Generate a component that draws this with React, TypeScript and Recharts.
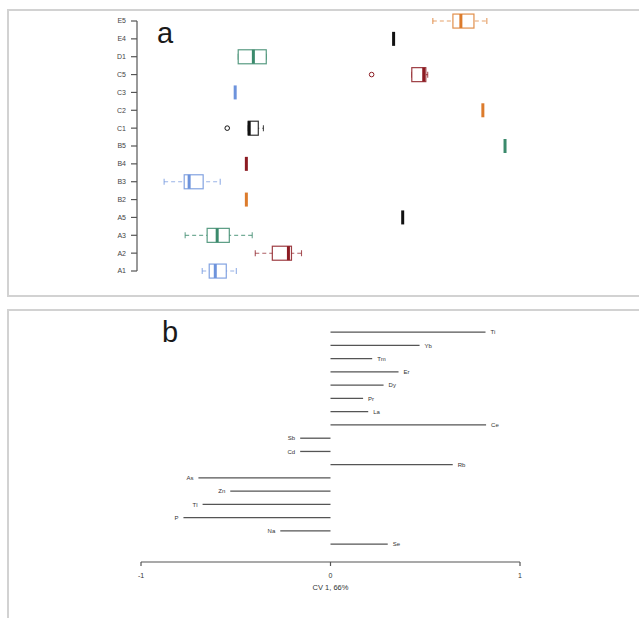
import React from 'react';
import { ComposedChart, Bar, Scatter, XAxis, YAxis } from 'recharts';

// ---------- Panel a: box plots ----------
const boxCategories = ['E5', 'E4', 'D1', 'C5', 'C3', 'C2', 'C1', 'B5', 'B4', 'B3', 'B2', 'A5', 'A3', 'A2', 'A1'];
const boxLow = [0.54, 0.333, -0.487, 0.429, -0.503, 0.804, -0.434, 0.921, -0.444, -0.878, -0.444, 0.381, -0.767, -0.397, -0.677];
const boxQ1 = [0.646, 0.333, -0.487, 0.429, -0.503, 0.804, -0.434, 0.921, -0.444, -0.772, -0.444, 0.381, -0.651, -0.307, -0.64];
const boxMedian = [0.688, 0.333, -0.407, 0.492, -0.503, 0.804, -0.429, 0.921, -0.444, -0.746, -0.444, 0.381, -0.598, -0.222, -0.608];
const boxQ3 = [0.757, 0.333, -0.339, 0.503, -0.503, 0.804, -0.381, 0.921, -0.444, -0.672, -0.444, 0.381, -0.534, -0.206, -0.55];
const boxHigh = [0.825, 0.333, -0.339, 0.513, -0.503, 0.804, -0.354, 0.921, -0.444, -0.582, -0.444, 0.381, -0.413, -0.153, -0.497];
const boxOutlier: (number | null)[] = [null, null, null, 0.217, null, null, -0.545, null, null, null, null, null, null, null, null];
const groupColors = ['#dc7b2c', '#111111', '#3b8a6c', '#8c1b22', '#6d93dc'];

// ---------- Panel b: loadings ----------
const cvElements = ['Ti', 'Yb', 'Tm', 'Er', 'Dy', 'Pr', 'La', 'Ce', 'Sb', 'Cd', 'Rb', 'As', 'Zn', 'Tl', 'P', 'Na', 'Se'];
const cvLoadings = [0.818, 0.47, 0.22, 0.359, 0.28, 0.172, 0.199, 0.821, -0.16, -0.16, 0.645, -0.697, -0.529, -0.675, -0.776, -0.265, 0.302];
const cvTicks = [-1, 0, 1];
const cvAxisTitle = 'CV 1, 66%';

const boxData = boxCategories.map((cat, i) => ({
  cat,
  whisker: [boxLow[i], boxHigh[i]],
  box: [boxQ1[i], boxQ3[i]],
  med: boxMedian[i],
  out: boxOutlier[i],
  color: groupColors[i % groupColors.length],
}));

const cvData = cvElements.map((name, i) => ({ name, v: cvLoadings[i] }));

const WhiskerShape = (props: any) => {
  const { x, y, width, height, payload } = props;
  if (!payload || !isFinite(width) || Math.abs(width) < 0.5) return <g />;
  const cy = y + height / 2;
  const c = payload.color;
  const x2 = x + width;
  return (
    <g>
      <line x1={x} x2={x2} y1={cy} y2={cy} stroke={c} strokeOpacity={0.7} strokeWidth={1.1} strokeDasharray="4 3" />
      <line x1={x} x2={x} y1={y} y2={y + height} stroke={c} strokeOpacity={0.75} strokeWidth={1.1} />
      <line x1={x2} x2={x2} y1={y} y2={y + height} stroke={c} strokeOpacity={0.75} strokeWidth={1.1} />
    </g>
  );
};

const BoxShape = (props: any) => {
  const { x, y, width, height, payload } = props;
  if (!payload || !isFinite(width) || Math.abs(width) < 0.5) return <g />;
  const left = Math.min(x, x + width);
  return (
    <rect x={left} y={y} width={Math.abs(width)} height={height} fill="#ffffff" stroke={payload.color} strokeOpacity={0.85} strokeWidth={1.2} />
  );
};

const MedianShape = (props: any) => {
  const { cx, cy, payload } = props;
  if (!payload || cx == null || cy == null) return <g />;
  return <line x1={cx} x2={cx} y1={cy - 7} y2={cy + 7} stroke={payload.color} strokeWidth={3} />;
};

const OutlierShape = (props: any) => {
  const { cx, cy, payload } = props;
  if (!payload || payload.out == null || cx == null || cy == null || !isFinite(cx)) return <g />;
  return <circle cx={cx} cy={cy} r={2.3} fill="none" stroke={payload.color} strokeWidth={1} />;
};

const LoadingShape = (props: any) => {
  const { x, y, width, height, payload } = props;
  if (!payload) return <g />;
  const cy = y + height / 2;
  const a = x;
  const b = x + width;
  const lo = Math.min(a, b);
  const hi = Math.max(a, b);
  const neg = payload.v < 0;
  return (
    <g>
      <line x1={lo} x2={hi} y1={cy} y2={cy} stroke="#555555" strokeWidth={1.3} />
      <text
        x={neg ? lo - 5 : hi + 5}
        y={cy}
        dy="0.35em"
        textAnchor={neg ? 'end' : 'start'}
        fontSize={6}
        fill="#333333"
      >
        {payload.name}
      </text>
    </g>
  );
};

const bandPad = { top: -8.93, bottom: -8.93 };

export default function App() {
  return (
    <div
      style={{
        position: 'absolute',
        left: 0,
        top: 0,
        width: 639,
        height: 618,
        background: '#ffffff',
        overflow: 'hidden',
        fontFamily: '"Liberation Sans", Arial, sans-serif',
      }}
    >
      <div style={{ position: 'absolute', left: 7, top: 9, width: 700, height: 288, boxSizing: 'border-box', border: '2px solid #d2d2d2' }} />
      <div style={{ position: 'absolute', left: 7, top: 309, width: 700, height: 400, boxSizing: 'border-box', border: '2px solid #d2d2d2' }} />

      <div style={{ position: 'absolute', left: 0, top: 0 }}>
        <ComposedChart width={639} height={300} data={boxData} layout="vertical" margin={{ top: 21, right: 119, bottom: 29, left: 107 }}>
          <XAxis type="number" domain={[-1, 1]} hide padding={{ left: 4, right: 0 }} />
          <YAxis
            yAxisId="main"
            type="category"
            dataKey="cat"
            allowDuplicatedCategory={false}
            width={30}
            padding={bandPad}
            tickSize={6}
            tickMargin={5}
            interval={0}
            axisLine={{ stroke: '#555555', strokeWidth: 1.2 }}
            tickLine={{ stroke: '#555555', strokeWidth: 1.2 }}
            tick={{ fontSize: 7, fill: '#444444' }}
          />
          <YAxis yAxisId="whisk" type="category" dataKey="cat" hide width={0} padding={bandPad} />
          <YAxis yAxisId="box" type="category" dataKey="cat" hide width={0} padding={bandPad} />
          <Bar yAxisId="whisk" dataKey="whisker" barSize={6} shape={WhiskerShape} isAnimationActive={false} />
          <Bar yAxisId="box" dataKey="box" barSize={14} shape={BoxShape} isAnimationActive={false} />
          <Scatter yAxisId="main" dataKey="med" shape={MedianShape} isAnimationActive={false} />
          <Scatter yAxisId="main" dataKey="out" shape={OutlierShape} isAnimationActive={false} />
        </ComposedChart>
      </div>

      <div style={{ position: 'absolute', left: 0, top: 300 }}>
        <ComposedChart width={639} height={318} data={cvData} layout="vertical" margin={{ top: 25.4, right: 119, bottom: 26, left: 141 }}>
          <XAxis
            type="number"
            domain={[-1, 1]}
            ticks={cvTicks}
            height={30}
            tickSize={4}
            tickMargin={7}
            axisLine={{ stroke: '#555555', strokeWidth: 1.2 }}
            tickLine={{ stroke: '#555555', strokeWidth: 1.2 }}
            tick={{ fontSize: 7, fill: '#333333' }}
            label={{ value: cvAxisTitle, position: 'insideBottom', offset: 2, fontSize: 7.5, fill: '#333333' }}
          />
          <YAxis type="category" dataKey="name" hide width={0} padding={{ top: 0, bottom: 11.4 }} />
          <Bar dataKey="v" shape={LoadingShape} isAnimationActive={false} />
        </ComposedChart>
      </div>

      <div style={{ position: 'absolute', left: 157, top: 19, fontSize: 29, lineHeight: 1, color: '#1a1a1a' }}>a</div>
      <div style={{ position: 'absolute', left: 162, top: 318, fontSize: 29, lineHeight: 1, color: '#1a1a1a' }}>b</div>
    </div>
  );
}
